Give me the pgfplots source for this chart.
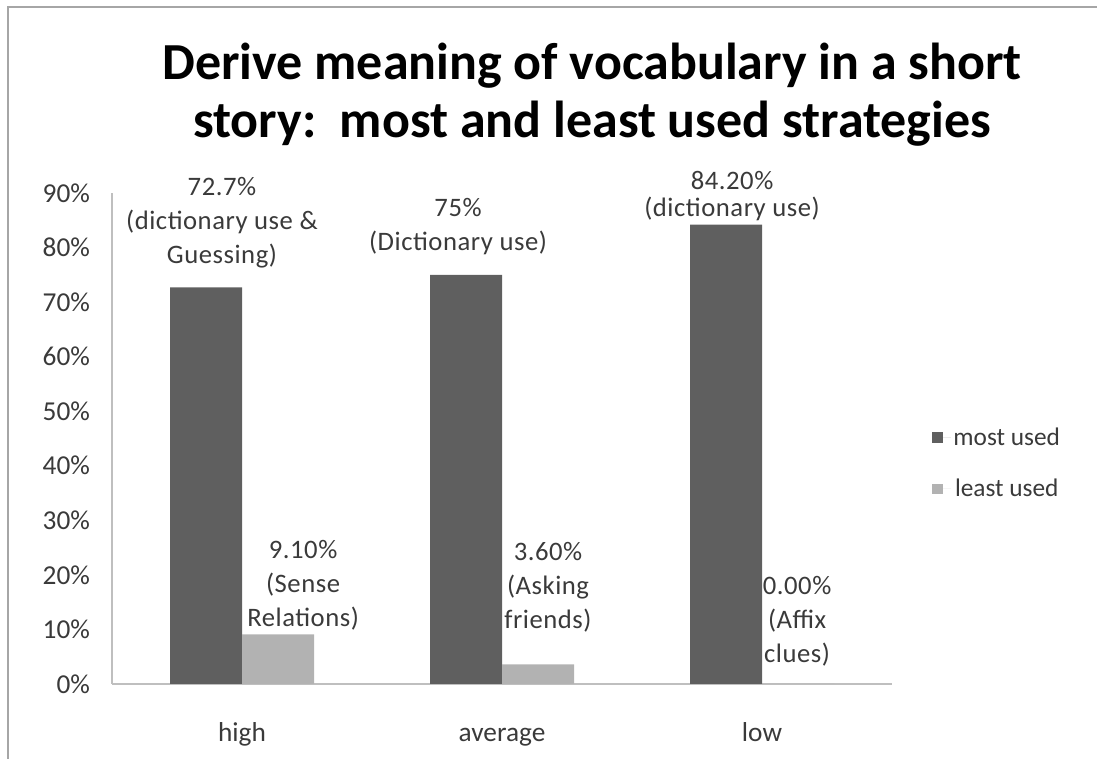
\documentclass[border=0pt]{standalone}
\usepackage{pgfplots}
\pgfplotsset{compat=1.18}
\usepackage{fontspec}
\setmainfont{Carlito}
\definecolor{darkbar}{HTML}{5F5F5F}
\definecolor{lightbar}{HTML}{B2B2B2}
\definecolor{axisgray}{HTML}{BFBFBF}
\definecolor{framegray}{HTML}{A6A6A6}
\definecolor{txt}{HTML}{3A3A3A}
\begin{document}
\begin{tikzpicture}[x=0.75pt,y=0.75pt]
\useasboundingbox (0,0) rectangle (1097,759);
\draw[framegray,line width=1.5pt] (8,0) -- (8,752) -- (1097,752);
\node[anchor=base,font=\fontsize{39}{44}\bfseries\selectfont] at (592,{759-80}) {Derive meaning of vocabulary in a short};
\node[anchor=base,font=\fontsize{39}{44}\bfseries\selectfont] at (592,{759-138}) {story:\ \ most and least used strategies};
\begin{axis}[
  at={(84pt,56.25pt)}, anchor=south west,
  scale only axis, width=585pt, height=368.25pt,
  xmin=-0.5, xmax=2.5, ymin=0, ymax=90,
  axis x line*=bottom, axis y line*=left,
  axis line style={axisgray, line width=1pt},
  major tick length=0pt,
  ytick={0,10,...,90},
  yticklabels={0\%,10\%,20\%,30\%,40\%,50\%,60\%,70\%,80\%,90\%},
  xtick={0,1,2}, xticklabels={high,average,low},
  tick label style={font=\fontsize{20.5}{24}\selectfont, text=txt},
  yticklabel style={xshift=-13pt},
  xticklabel style={anchor=base, yshift=-43.5pt},
  ybar=0pt, bar width=54pt,
  legend style={at={(1.046,0.45)}, anchor=west, draw=none, fill=none,
     font=\fontsize{19}{23}\selectfont, text=txt, row sep=20pt},
  legend image code/.code={\fill[#1] (0pt,-4pt) rectangle (8pt,4pt); \path (0pt,0pt) -- (14pt,0pt);},
  clip=false,
]
\addplot[fill=darkbar, draw=none] coordinates {(0,72.7) (1,75) (2,84.2)};
\addplot[fill=lightbar, draw=none] coordinates {(0,9.1) (1,3.6) (2,0)};
\legend{most used, least used}
\begin{scope}[every node/.style={align=center, text=txt, font=\fontsize{20}{25.5}\selectfont\addfontfeatures{LetterSpace=2}}]
\node at (axis cs:-0.077,84.6) {72.7\%\\(dictionary use \&\\Guessing)};
\node at (axis cs:0.831,83.8) {75\%\\(Dictionary use)};
\node[font=\fontsize{20}{20}\selectfont\addfontfeatures{LetterSpace=2}] at (axis cs:1.885,89.4) {84.20\%\\(dictionary use)};
\node at (axis cs:0.235,18.1) {9.10\%\\(Sense\\Relations)};
\node at (axis cs:1.177,17.8) {3.60\%\\(Asking\\friends)};
\node at (axis cs:2.135,11.5) {0.00\%\\(Affix\\clues)};
\end{scope}
\end{axis}
\end{tikzpicture}
\end{document}
